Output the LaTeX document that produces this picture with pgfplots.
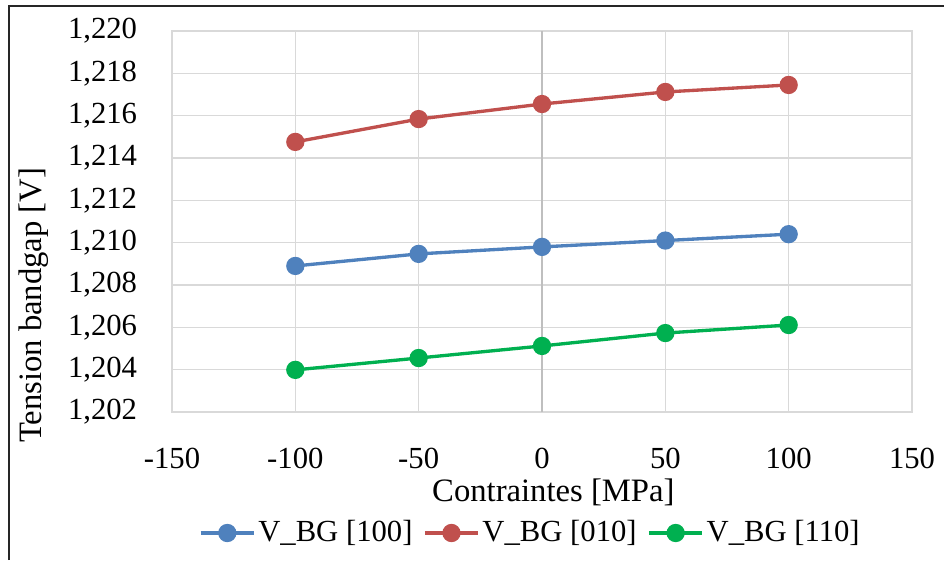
\documentclass[border=0pt]{standalone}
\usepackage{pgfplots}
\pgfplotsset{compat=1.18}
\usepackage{fontspec}
\setmainfont{Liberation Serif}
\definecolor{cblue}{HTML}{4F81BD}
\definecolor{cred}{HTML}{C0504D}
\definecolor{cgreen}{HTML}{00B050}
\definecolor{gridc}{HTML}{D9D9D9}
\definecolor{axisc}{HTML}{BFBFBF}
\begin{document}
\fontsize{23}{28}\selectfont
\begin{tikzpicture}
\path[use as bounding box] (0,0) rectangle (708pt,420pt);
\draw[line width=0.9pt, color=black!85] (6.75pt,0pt) -- (6.75pt,415.5pt) -- (708pt,415.5pt);
\begin{axis}[
  at={(129pt,111pt)}, anchor=south west,
  scale only axis, width=555pt, height=285.75pt,
  xmin=-150, xmax=150, ymin=1.202, ymax=1.220,
  xtick={-150,-100,-50,0,50,100,150},
  ytick={1.202,1.204,1.206,1.208,1.210,1.212,1.214,1.216,1.218,1.220},
  grid=major,
  major grid style={gridc, line width=1pt},
  axis line style={gridc, line width=1pt},
  tick style={draw=none},
  extra x ticks={0},
  extra x tick labels={},
  extra x tick style={grid=major, major grid style={axisc, line width=1.2pt}},
  /pgf/number format/assume math mode=true,
  yticklabel style={/pgf/number format/use comma, /pgf/number format/fixed, /pgf/number format/fixed zerofill, /pgf/number format/precision=3, /pgf/number format/1000 sep={}},
  yticklabel style={anchor=east, inner sep=0pt, xshift=-26pt},
  xticklabel style={anchor=center, inner sep=0pt, yshift=-34.5pt},
  xlabel={Contraintes [MPa]},
  xlabel style={at={(axis description cs:0.5,0)}, anchor=center, inner sep=0pt, xshift=8.5pt, yshift=-60pt, font=\fontsize{24.5}{29}\selectfont},
  ylabel={Tension bandgap [V]},
  ylabel style={at={(axis description cs:0,0)}, anchor=center, inner sep=0pt, xshift=80pt, yshift=104pt, font=\fontsize{24.5}{29}\selectfont},
  legend columns=3,
  legend style={at={(axis description cs:0,0)}, anchor=center, xshift=269pt, yshift=-90.75pt,
    draw=none, fill=none, inner sep=0pt,
    /tikz/every even column/.append style={column sep=6pt},
    nodes={inner sep=2pt}},
  legend image code/.code={\draw[mark repeat=2, mark phase=2] plot coordinates {(0pt,0pt) (20pt,0pt) (40pt,0pt)};},
]
\addplot[cblue, line width=2.5pt, mark=*, mark size=5.6pt, mark options={solid}] coordinates {
  (-100,1.2089) (-50,1.20947) (0,1.2098) (50,1.2101) (100,1.2104)};
\addlegendentry{V\_BG [100]}
\addplot[cred, line width=2.5pt, mark=*, mark size=5.6pt, mark options={solid}] coordinates {
  (-100,1.21476) (-50,1.21584) (0,1.21655) (50,1.21712) (100,1.21745)};
\addlegendentry{V\_BG [010]}
\addplot[cgreen, line width=2.5pt, mark=*, mark size=5.6pt, mark options={solid}] coordinates {
  (-100,1.20399) (-50,1.20455) (0,1.20512) (50,1.20573) (100,1.20611)};
\addlegendentry{V\_BG [110]}
\end{axis}
\end{tikzpicture}
\end{document}
